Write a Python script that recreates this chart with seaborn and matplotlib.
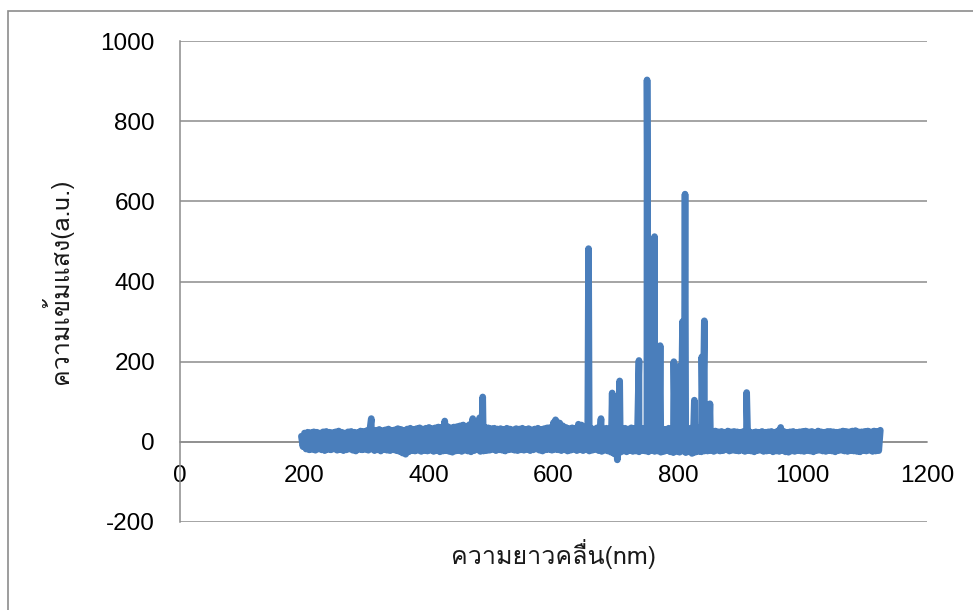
import numpy as np
import pandas as pd
import matplotlib
matplotlib.use("Agg")
import matplotlib.pyplot as plt
from matplotlib import font_manager
from matplotlib.ft2font import FT2Font
from matplotlib.patches import Rectangle
import seaborn as sns

# Baseline of the emission spectrum, sampled every 2.5 nm from 195 nm
# (one row per 50 nm)
start_nm = 195.0
step_nm = 2.5
baseline = [
    14, -12, 22, -18, 24, -20, 23, -19, 25, -21, 24, -18, 22, -20, 25, -22, 26, -19, 24, -20,
    23, -18, 25, -21, 27, -19, 24, -22, 22, -20, 25, -18, 26, -21, 24, -23, 23, -19, 27, -20,
    26, -19, 28, -21, 30, -18, 27, -22, 29, -20, 31, -23, 28, -19, 30, -21, 32, -22, 29, -20,
    30, -22, 33, -24, 31, -28, 29, -31, 32, -25, 34, -22, 31, -23, 33, -21, 35, -24, 32, -22,
    34, -23, 36, -21, 33, -24, 35, -22, 37, -25, 36, -23, 40, -22, 38, -24, 35, -26, 37, -23,
    38, -22, 40, -24, 42, -21, 39, -23, 43, -25, 45, -22, 41, -20, 44, -24, 38, -23, 36, -22,
    35, -21, 33, -19, 34, -22, 32, -20, 33, -21, 31, -23, 34, -20, 32, -19, 30, -21, 33, -22,
    32, -20, 34, -21, 31, -19, 33, -22, 30, -20, 32, -18, 34, -21, 31, -23, 33, -20, 35, -19,
    36, -21, 48, -19, 50, -20, 47, -22, 40, -20, 36, -23, 33, -21, 35, -19, 34, -22, 44, -20,
    42, -22, 35, -20, 33, -23, 34, -21, 32, -19, 35, -22, 33, -24, 31, -21, 34, -23, 32, -26,
    31, -30, 30, -45, 33, -26, 31, -23, 34, -25, 32, -22, 35, -24, 33, -23, 32, -25, 34, -22,
    33, -23, 35, -25, 32, -22, 34, -24, 33, -23, 35, -26, 32, -24, 31, -22, 34, -25, 33, -27,
    34, -24, 32, -26, 35, -23, 33, -27, 31, -25, 34, -29, 32, -26, 33, -24, 35, -25, 34, -23,
    29, -23, 28, -22, 26, -24, 27, -21, 25, -23, 26, -22, 24, -20, 27, -23, 25, -21, 26, -22,
    25, -23, 24, -21, 26, -24, 24, -22, 25, -23, 23, -25, 25, -22, 24, -21, 26, -24, 24, -23,
    25, -22, 26, -25, 24, -23, 27, -24, 36, -22, 26, -25, 24, -26, 25, -23, 26, -24, 24, -22,
    25, -23, 26, -24, 27, -22, 25, -23, 26, -25, 24, -22, 27, -21, 25, -23, 24, -24, 26, -22,
    26, -23, 25, -25, 24, -22, 25, -21, 27, -23, 26, -24, 25, -22, 27, -23, 28, -24, 25, -25,
    25, -22, 26, -23, 27, -21, 25, -24, 27, -23, 26, -22, 29,
]

# Emission lines (wavelength in nm, intensity in a.u.)
line_nm = [307, 425, 470, 481, 486, 603, 656, 676, 694, 706, 737, 750,
           753, 762, 771, 793, 801, 807, 811, 826, 838, 842, 851, 910]
line_val = [58, 52, 58, 60, 112, 55, 482, 58, 122, 152, 203, 903,
            418, 512, 240, 200, 188, 300, 618, 104, 212, 302, 95, 123]

x_ticks = [0, 200, 400, 600, 800, 1000, 1200]
y_ticks = [-200, 0, 200, 400, 600, 800, 1000]
x_title = "ความยาวคลื่น(nm)"
y_title = "ความเข้มแสง(a.u.)"

base_nm = np.arange(len(baseline)) * step_nm + start_nm
df = pd.DataFrame({
    "nm": np.concatenate([base_nm, np.asarray(line_nm, float) + 0.3]),
    "intensity": np.concatenate([np.asarray(baseline, float),
                                 np.asarray(line_val, float)]),
}).sort_values("nm")


def thai_family():
    for f in font_manager.fontManager.ttflist:
        try:
            ft = FT2Font(f.fname)
            if ft.get_char_index(ord("ค")) and ft.get_char_index(ord("้")):
                return f.name
        except Exception:
            continue
    return None


sns.set_theme(style="white")
thai = thai_family()
title_fonts = ([thai] if thai else []) + ["DejaVu Sans"]
plt.rcParams["font.family"] = ["Liberation Sans", "DejaVu Sans"]

grid_color = "#8c8c8c"
line_color = "#4a7ebb"

fig = plt.figure(figsize=(9.73, 6.10), dpi=100)
fig.patch.set_facecolor("white")
ax = fig.add_axes([180 / 973, 1 - 522 / 610, 747 / 973, 481 / 610])
ax.set_facecolor("white")

sns.lineplot(data=df, x="nm", y="intensity", ax=ax, color=line_color,
             lw=4.8, estimator=None, sort=True,
             solid_joinstyle="round", solid_capstyle="round", zorder=3)

ax.set_xlim(0, 1200)
ax.set_ylim(-200, 1000)
ax.set_xticks(x_ticks)
ax.set_yticks(y_ticks)
ax.set_xticklabels([str(v) for v in x_ticks])
ax.set_yticklabels([str(v) for v in y_ticks])

ax.grid(False)
for v in y_ticks:
    ax.axhline(v, color=grid_color, lw=1.1, zorder=1)

for side in ("top", "right"):
    ax.spines[side].set_visible(False)
ax.spines["bottom"].set_position(("data", 0))
ax.spines["bottom"].set_color(grid_color)
ax.spines["bottom"].set_linewidth(1.1)
ax.spines["left"].set_color(grid_color)
ax.spines["left"].set_linewidth(1.1)

ax.tick_params(axis="x", length=0, pad=17, labelsize=17.5, labelcolor="black")
ax.tick_params(axis="y", length=0, pad=18, labelsize=17.5, labelcolor="black")

ax.set_xlabel(x_title, fontsize=18, family=title_fonts, color="#1a1a1a")
ax.set_ylabel(y_title, fontsize=18, family=title_fonts, color="#1a1a1a")
ax.xaxis.set_label_coords(0.5, -0.035)
ax.yaxis.set_label_coords(-0.143, 0.5)

# Outer chart border
fig.patches.append(Rectangle((8 / 973, -0.05), 1.1, 1 - 10.5 / 610 + 0.05,
                             transform=fig.transFigure, fill=False,
                             edgecolor=grid_color, lw=1.2))

fig.savefig("out.png", dpi=100)
